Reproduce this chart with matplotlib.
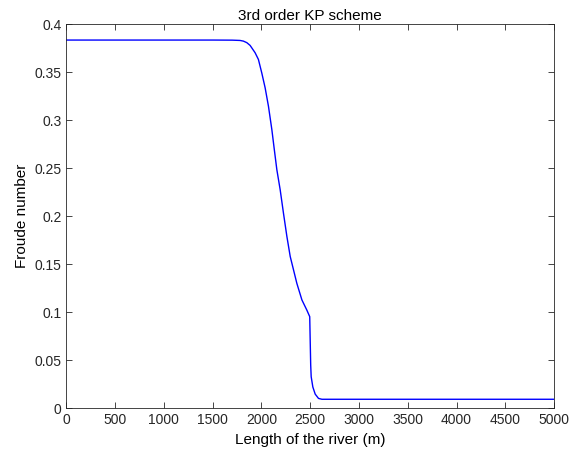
import matplotlib
matplotlib.use("Agg")
import matplotlib.pyplot as plt

plt.rcParams['font.family'] = ['Liberation Sans', 'DejaVu Sans']

# Froude number along the river
distance = [0, 1500, 1700, 1780, 1815, 1850, 1884, 1935, 1969, 2004, 2038,
            2072, 2107, 2130, 2158, 2192, 2226, 2261, 2295, 2329, 2363,
            2415, 2466, 2495, 2500, 2505, 2510, 2527, 2551, 2585, 2620, 5000]
froude = [0.3835, 0.3835, 0.3834, 0.3831, 0.3824, 0.3808, 0.3779, 0.3703,
          0.3633, 0.3490, 0.3337, 0.3145, 0.2900, 0.2710, 0.2484, 0.2276,
          0.2030, 0.1788, 0.1580, 0.1440, 0.1300, 0.1127, 0.1020, 0.0953,
          0.0700, 0.0450, 0.0327, 0.0220, 0.0146, 0.0101, 0.0092, 0.0092]

xticks = list(range(0, 5001, 500))
yticks = [0, 0.05, 0.1, 0.15, 0.2, 0.25, 0.3, 0.35, 0.4]

fig = plt.figure(figsize=(5.82, 4.57), dpi=100)
ax = fig.add_axes([0.114, 0.107, 0.838, 0.840])
ax.plot(distance, froude, color='blue', linewidth=1.0)

ax.set_xlim(0, 5000)
ax.set_ylim(0, 0.4)
ax.set_xticks(xticks)
ax.set_yticks(yticks)
ax.set_yticklabels(['0', '0.05', '0.1', '0.15', '0.2', '0.25', '0.3', '0.35', '0.4'])
ax.tick_params(direction='in', top=True, right=True, labelsize=10,
               color='#262626', labelcolor='#262626', length=4, width=0.6)
for s in ax.spines.values():
    s.set_color('#262626')
    s.set_linewidth(0.6)

ax.set_title("3rd order KP scheme", fontsize=11, color='black', pad=3)
ax.set_xlabel("Length of the river (m)", fontsize=11, color='black')
ax.set_ylabel("Froude number", fontsize=11, color='black')

fig.savefig("out.png", dpi=100)
